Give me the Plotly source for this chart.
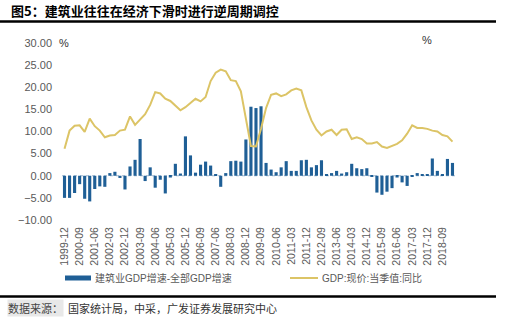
import plotly.graph_objects as go

# ---- data ----
start_year, start_q = 1999, 4
n_points = 78
categories = []
y_, q_ = start_year, start_q
for _ in range(n_points):
    categories.append(f"{y_}-{q_*3:02d}")
    q_ += 1
    if q_ > 4:
        q_ = 1
        y_ += 1

bar_name = "建筑业GDP增速-全部GDP增速"
bar_values = [
    -5.0, -5.0, -3.9, -1.9, -5.2, -5.8, -3.0, -2.4, -2.5, 0.6,
    0.9, -0.5, -3.1, 2.1, 3.6, 8.3, -1.2, 1.9, -2.7, -0.9,
    -4.0, -0.4, 2.7, 0.5, 8.9, 4.6, 0.7, 2.5, 3.2, 2.3,
    0.3, -2.5, 0.6, 3.3, 3.4, 3.2, 8.2, 15.6, 15.3, 15.7,
    2.9, 1.4, 0.8, 1.9, 3.3, 1.1, 1.1, 3.5, 3.6, 1.9,
    2.4, 3.5, 0.2, 0.6, 1.1, 0.5, 0.8, 2.7, 1.7, 1.5,
    1.7, -0.1, -3.8, -4.3, -3.6, -2.8, -0.4, -1.5, -2.3, -0.2,
    0.6, 0.4, 0.4, 3.9, 1.1, 0.2, 3.8, 2.9,
]

line_name = "GDP:现价:当季值:同比"
line_values = [
    6.1, 10.2, 11.3, 11.4, 9.9, 12.9, 11.2, 10.2, 8.7, 9.1,
    9.2, 10.2, 10.4, 13.4, 11.5, 12.8, 13.9, 16.0, 18.9, 18.6,
    17.4, 16.9, 15.8, 14.8, 15.5, 16.4, 17.4, 16.8, 17.8, 21.4,
    23.3, 24.0, 23.6, 21.6, 21.4, 19.1, 13.2, 6.7, 6.6, 10.6,
    15.3, 18.3, 18.6, 18.0, 18.4, 19.3, 19.7, 19.3, 15.5, 12.5,
    10.4, 9.1, 10.0, 10.4, 9.2, 10.4, 10.5, 8.3, 8.7, 8.3,
    7.3, 7.3, 7.6, 6.6, 6.3, 6.8, 7.2, 8.0, 9.5, 11.4,
    10.8, 10.8, 10.6, 10.2, 10.0, 9.2, 8.9, 7.7,
]

tick_labels = categories[::3]
y_ticks = [-10, -5, 0, 5, 10, 15, 20, 25, 30]

title_text = "图5：建筑业往往在经济下滑时进行逆周期调控"
source_label = "数据来源："
source_text = "国家统计局，中采，广发证券发展研究中心"

# ---- style ----
BAR_COLOR = "#1f5f96"
LINE_COLOR = "#dcc466"
LATIN = "Liberation Sans, Arial, Noto Sans CJK SC"
CJK = "Noto Sans CJK SC, Liberation Sans"
GRAY = "#595959"

W, H = 511, 321
ML, MR, MT, MB = 62, 56, 43, 101
PW, PH = W - ML - MR, H - MT - MB


def px(x):
    return (x - ML) / PW


def py(y):
    return (H - MB - y) / PH


fig = go.Figure()
fig.add_trace(go.Bar(
    x=categories, y=bar_values, name=bar_name,
    marker=dict(color=BAR_COLOR, line=dict(width=0)),
))
fig.add_trace(go.Scatter(
    x=categories, y=line_values, name=line_name, mode="lines",
    line=dict(color=LINE_COLOR, width=2),
))

fig.update_layout(
    width=W, height=H,
    margin=dict(l=ML, r=MR, t=MT, b=MB),
    paper_bgcolor="white", plot_bgcolor="white",
    showlegend=False, bargap=0.38,
    font=dict(family=LATIN, color=GRAY),
)
fig.update_xaxes(
    type="category", range=[-0.5, n_points - 0.5],
    tickmode="array", tickvals=tick_labels, ticktext=tick_labels,
    tickangle=-90, tickfont=dict(size=10.5, color=GRAY, family=LATIN),
    showgrid=False, showline=False, zeroline=False, ticks="",
    ticklabelstandoff=4,
)
fig.update_yaxes(
    range=[-10, 30], tickmode="array", tickvals=y_ticks,
    tickformat=".2f", tickfont=dict(size=11, color=GRAY, family=LATIN),
    showgrid=False, showline=False, zeroline=False, ticks="",
    ticklabelstandoff=9,
)

shapes = []
# dotted zero line
shapes.append(dict(type="line", xref="paper", yref="y", x0=0, x1=1, y0=0, y1=0,
                   line=dict(color="#9fb8d0", width=1, dash="dot"), layer="below"))
# title rule
shapes.append(dict(type="line", xref="paper", yref="paper", x0=px(0), x1=px(496),
                   y0=py(21.5), y1=py(21.5), line=dict(color="black", width=2.5)))
# bottom rule
shapes.append(dict(type="line", xref="paper", yref="paper", x0=px(0), x1=px(496),
                   y0=py(296.5), y1=py(296.5), line=dict(color="black", width=2.5)))
# legend symbols
shapes.append(dict(type="rect", xref="paper", yref="paper", x0=px(65), x1=px(91),
                   y0=py(280.5), y1=py(275.5), fillcolor=BAR_COLOR, line=dict(width=0)))
shapes.append(dict(type="line", xref="paper", yref="paper", x0=px(290), x1=px(318),
                   y0=py(278), y1=py(278), line=dict(color=LINE_COLOR, width=2)))

annotations = [
    dict(text="<b>" + title_text + "</b>", x=px(9), y=py(11), xref="paper", yref="paper",
         xanchor="left", yanchor="middle", showarrow=False,
         font=dict(size=13, color="black", family=CJK)),
    dict(text="%", x=px(64), y=py(43), xref="paper", yref="paper",
         xanchor="center", yanchor="middle", showarrow=False,
         font=dict(size=11, color="#333333", family=LATIN)),
    dict(text="%", x=px(427), y=py(40), xref="paper", yref="paper",
         xanchor="center", yanchor="middle", showarrow=False,
         font=dict(size=11, color="#333333", family=LATIN)),
    dict(text=bar_name, x=px(93), y=py(278), xref="paper", yref="paper",
         xanchor="left", yanchor="middle", showarrow=False,
         font=dict(size=10, color=GRAY, family=LATIN)),
    dict(text=line_name, x=px(320), y=py(278), xref="paper", yref="paper",
         xanchor="left", yanchor="middle", showarrow=False,
         font=dict(size=10, color=GRAY, family=LATIN)),
    dict(text=source_label, x=px(7), y=py(308), xref="paper", yref="paper",
         xanchor="left", yanchor="middle", showarrow=False, bgcolor="#e8e8e8",
         borderpad=0, font=dict(size=11, color="#444444", family=CJK)),
    dict(text=source_text, x=px(66), y=py(308), xref="paper", yref="paper",
         xanchor="left", yanchor="middle", showarrow=False,
         font=dict(size=11, color="#333333", family=CJK)),
]
fig.update_layout(shapes=shapes, annotations=annotations)

fig.write_html("out.html")
